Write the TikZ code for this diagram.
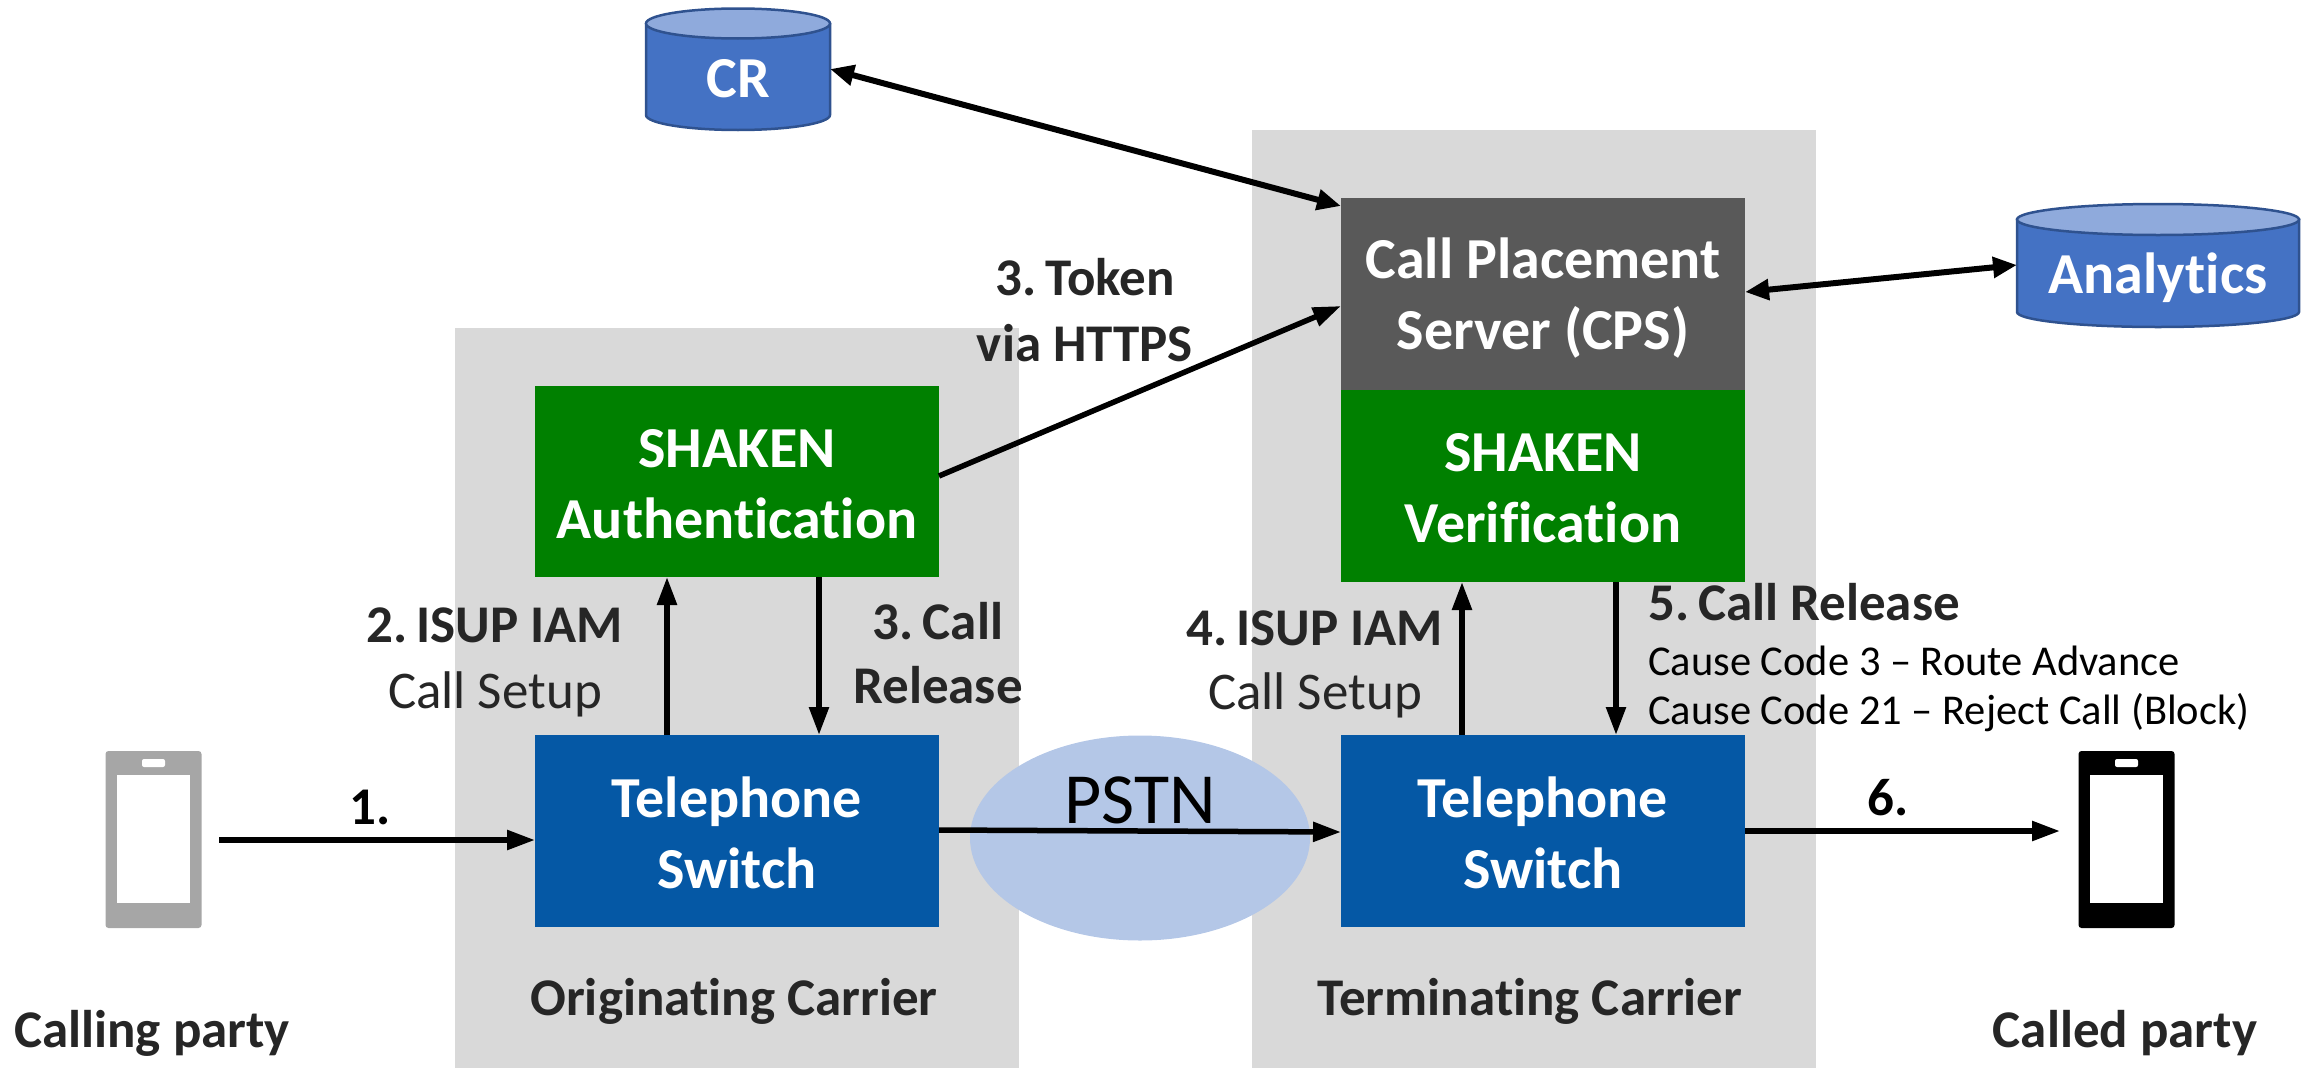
\documentclass[tikz,border=0pt]{standalone}
\usepackage{fontspec}
\setmainfont{Carlito}[Ligatures=CommonOff]
\usetikzlibrary{arrows.meta,shapes.geometric}
\definecolor{greybg}{HTML}{D9D9D9}
\definecolor{cylblue}{HTML}{4472C4}
\definecolor{cyltop}{HTML}{8FAADC}
\definecolor{cylline}{HTML}{2F528F}
\definecolor{shakengreen}{HTML}{008000}
\definecolor{switchblue}{HTML}{0558A5}
\definecolor{cpsgrey}{HTML}{595959}
\definecolor{pstnblue}{HTML}{B4C7E7}
\definecolor{labelink}{HTML}{262626}
\definecolor{phonegrey}{HTML}{A6A6A6}
\newcommand{\nsp}{\kern-3pt\ }
\tikzset{
  x=1pt,y=-1pt,
  carrierbg/.style={fill=greybg,draw=none,inner sep=0pt,outer sep=0pt,anchor=north west},
  blockbox/.style={draw=none,inner sep=0pt,outer sep=0pt,minimum width=404pt},
  blocktext/.style={inner sep=0pt,text=white,align=center,font=\fontsize{58}{71}\selectfont\bfseries},
  conn/.style={draw=black,line width=5.5pt,-{Triangle[length=28pt,width=19pt]},shorten >=0pt},
  biconn/.style={draw=black,line width=6pt,{Triangle[length=24pt,width=20pt]}-{Triangle[length=24pt,width=20pt]}},
  boldlabel/.style={text=labelink,align=center,inner sep=0pt,font=\fontsize{53}{64}\selectfont\bfseries},
  thinlabel/.style={text=labelink,align=center,inner sep=0pt,font=\fontsize{53}{64}\selectfont},
  causelabel/.style={text=black,anchor=west,inner sep=0pt,font=\fontsize{42.5}{52}\selectfont},
  cyltext/.style={draw=none,inner sep=0pt,outer sep=0pt,text=white,font=\fontsize{58}{66}\selectfont\bfseries},
  cylbody/.style={fill=cylblue,draw=cylline,line width=2.5pt},
  cylcap/.style={fill=cyltop,draw=cylline,line width=2.5pt},
}
\begin{document}
\begin{tikzpicture}
\useasboundingbox (0,0) rectangle (2315,1068);
% carrier backgrounds
\node[carrierbg,minimum width=564pt,minimum height=740pt] (origbg) at (455,328) {};
\node[carrierbg,minimum width=564pt,minimum height=938pt] (termbg) at (1252,130) {};
% PSTN
\node[ellipse,fill=pstnblue,draw=none,inner sep=0pt,outer sep=0pt,minimum width=340pt,minimum height=205pt] (pstn) at (1140,838) {};
\node[text=black,inner sep=0pt,font=\fontsize{72}{76}\selectfont] (pstnlabel) at (1140,800) {PSTN};
% blocks
\node[blockbox,fill=shakengreen,minimum height=191pt] (auth) at (737,481.5) {};
\node[blocktext] (authtext) at (737,484) {SHAKEN\\Authentication};
\node[blockbox,fill=switchblue,minimum height=192pt] (origsw) at (737,831) {};
\node[blocktext] (origswtext) at (737,832.5) {Telephone\\Switch};
\node[blockbox,fill=cpsgrey,minimum height=192pt] (cps) at (1543,294) {};
\node[blocktext] (cpstext) at (1543,298) {Call Placement\\Server (CPS)};
\node[blockbox,fill=shakengreen,minimum height=192pt] (verify) at (1543,486) {};
\node[blocktext] (verifytext) at (1543,488.5) {SHAKEN\\Verification};
\node[blockbox,fill=switchblue,minimum height=192pt] (termsw) at (1543,831) {};
\node[blocktext] (termswtext) at (1543,832.5) {Telephone\\Switch};
% cylinders
\draw[cylbody] (646,24) -- (646,115) arc[start angle=180,end angle=360,x radius=92,y radius=-15] -- (830,24) -- cycle;
\draw[cylcap] (738,23.5) ellipse[x radius=92,y radius=15];
\node[cyltext,minimum width=184pt,minimum height=122pt] (cr) at (738,69) {};
\node[cyltext] (crlabel) at (738,79) {CR};
\draw[cylbody] (2017,219.5) -- (2017,312) arc[start angle=180,end angle=360,x radius=141,y radius=-15] -- (2299,219.5) -- cycle;
\draw[cylcap] (2158,219.5) ellipse[x radius=141,y radius=15.5];
\node[cyltext,minimum width=282pt,minimum height=123pt] (analytics) at (2158,265.5) {};
\node[cyltext] (analyticslabel) at (2158,278) {Analytics};
% phones
\node[fill=phonegrey,rounded corners=3pt,inner sep=0pt,outer sep=0pt,minimum width=96pt,minimum height=177pt] (caller) at (153.5,839.5) {};
\node[fill=white,inner sep=0pt,minimum width=73pt,minimum height=128pt] (callerscreen) at (153.5,839) {};
\node[fill=white,rounded corners=2pt,inner sep=0pt,minimum width=23pt,minimum height=8pt] (callerspk) at (153.5,763) {};
\node[fill=black,rounded corners=3pt,inner sep=0pt,outer sep=0pt,minimum width=96pt,minimum height=177pt] (callee) at (2126.5,839.5) {};
\node[fill=white,inner sep=0pt,minimum width=73pt,minimum height=128pt] (calleescreen) at (2126.5,839) {};
\node[fill=white,rounded corners=2pt,inner sep=0pt,minimum width=23pt,minimum height=8pt] (calleespk) at (2126.5,763) {};
% connector helper coordinates
\coordinate (a1s) at (219,840);
\coordinate (a1e) at (535,840);
\coordinate (a6s) at (1745,831);
\coordinate (a6e) at (2060,831);
\coordinate (au1) at (667,735);
\coordinate (au2) at (667,577);
\coordinate (ad1) at (819,577);
\coordinate (ad2) at (819,735);
\coordinate (vu1) at (1462,735);
\coordinate (vu2) at (1462,582);
\coordinate (vd1) at (1616,582);
\coordinate (vd2) at (1616,735);
\coordinate (ps) at (939,830);
\coordinate (pe) at (1341,832);
\coordinate (ts) at (939,476);
\coordinate (te) at (1341,306);
\coordinate (crs) at (830,69);
\coordinate (cre) at (1341,206);
\coordinate (ans) at (1745,292);
\coordinate (ane) at (2017,265);
% connectors
\draw[conn] (a1s) -- (a1e);
\draw[conn] (a6s) -- (a6e);
\draw[conn] (au1) -- (au2);
\draw[conn] (ad1) -- (ad2);
\draw[conn] (vu1) -- (vu2);
\draw[conn] (vd1) -- (vd2);
\draw[conn] (ps) -- (pe);
\draw[conn] (ts) -- (te);
\draw[biconn] (crs) -- (cre);
\draw[biconn] (ans) -- (ane);
% labels
\node[boldlabel] (tok1) at (1085,277) {3.\nsp Token};
\node[boldlabel] (tok2) at (1085,343) {via HTTPS};
\node[boldlabel] (isup2) at (495,625) {2.\nsp ISUP IAM};
\node[thinlabel] (setup2) at (495,694) {Call Setup};
\node[boldlabel] (rel3a) at (938,621) {3.\nsp Call};
\node[boldlabel] (rel3b) at (938,685) {Release};
\node[boldlabel] (isup4) at (1315,628) {4.\nsp ISUP IAM};
\node[thinlabel] (setup4) at (1315,695) {Call Setup};
\node[boldlabel,anchor=west] (rel5) at (1648,602) {5.\nsp Call Release};
\node[causelabel] (cause3) at (1648,661) {Cause Code 3 – Route Advance};
\node[causelabel] (cause21) at (1648,713) {Cause Code 21 – Reject Call (Block)};
\node[boldlabel,text=black] (one) at (370,807) {1.};
\node[boldlabel,text=black] (six) at (1888,798) {6.};
\node[boldlabel] (calling) at (152,1033) {Calling party};
\node[boldlabel] (called) at (2125,1033) {Called party};
\node[boldlabel] (origlab) at (734,1001) {Originating Carrier};
\node[boldlabel] (termlab) at (1530,1001) {Terminating Carrier};
\end{tikzpicture}
\end{document}
